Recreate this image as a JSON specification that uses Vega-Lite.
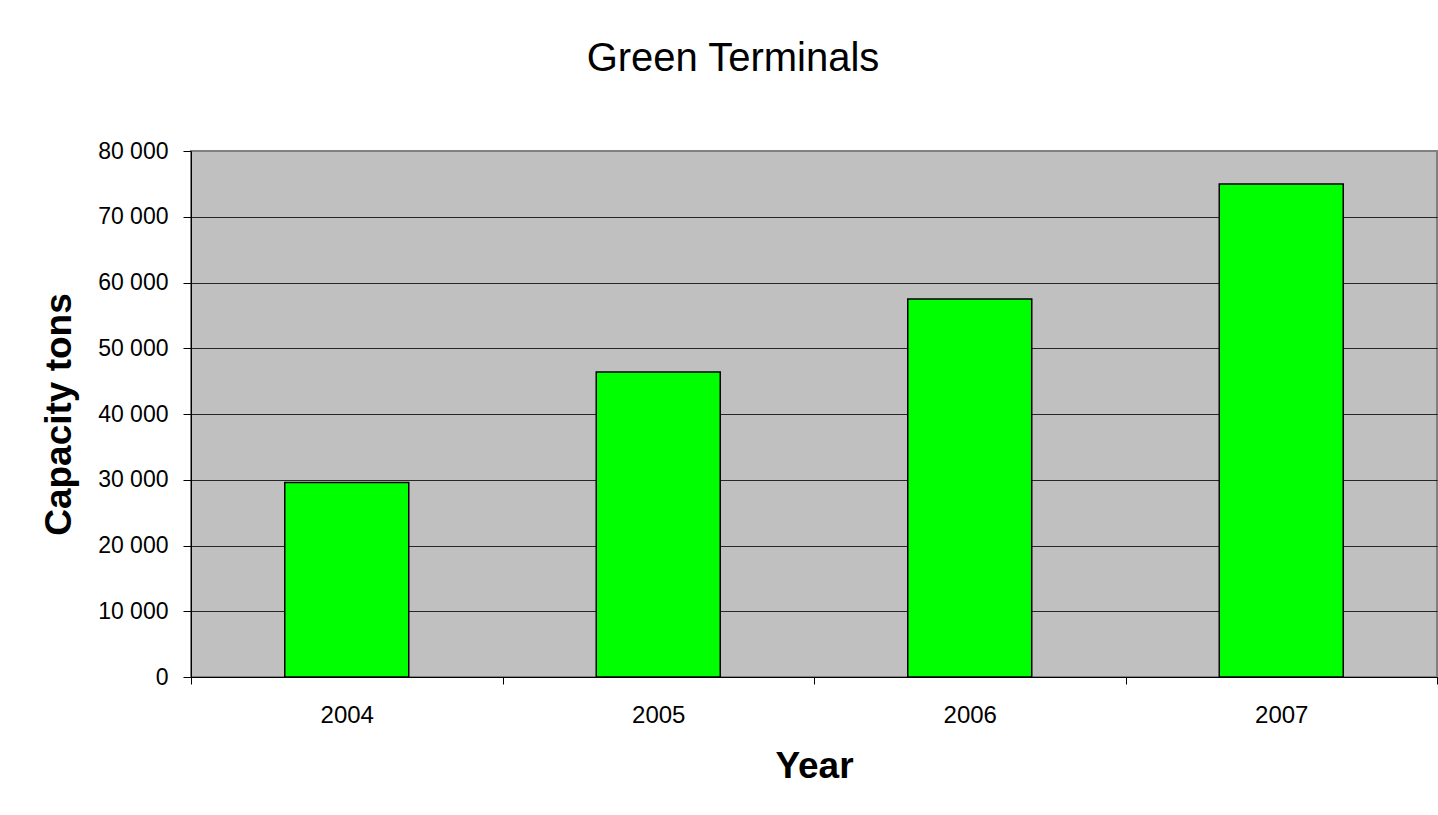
{
  "$schema": "https://vega.github.io/schema/vega-lite/v6.json",
  "width": 1246,
  "height": 526,
  "autosize": {"type": "none"},
  "padding": {"left": 191, "top": 151, "right": 1, "bottom": 138},
  "background": "white",
  "title": {
    "text": "Green Terminals",
    "font": "Liberation Sans",
    "fontSize": 40,
    "fontWeight": "normal",
    "color": "#000000",
    "anchor": "middle",
    "dx": -81,
    "offset": 29,
    "baseline": "alphabetic"
  },
  "data": {
    "values": [
      {"year": 2004, "capacity": 29600},
      {"year": 2005, "capacity": 46400},
      {"year": 2006, "capacity": 57500},
      {"year": 2007, "capacity": 75000}
    ]
  },
  "mark": {
    "type": "bar",
    "orient": "vertical",
    "color": "#00FF00",
    "stroke": "#000000",
    "strokeWidth": 1.5,
    "width": 124
  },
  "encoding": {
    "x": {
      "field": "year",
      "type": "quantitative",
      "scale": {"domain": [2003.5, 2007.5], "nice": false, "zero": false, "padding": 0},
      "axis": {
        "values": [2003.5, 2004, 2004.5, 2005, 2005.5, 2006, 2006.5, 2007, 2007.5],
        "labelExpr": "datum.value % 1 == 0 ? format(datum.value, 'd') : ''",
        "tickOpacity": {"condition": {"test": "datum.value % 1 != 0", "value": 1}, "value": 0},
        "grid": false,
        "tickSize": 7,
        "tickColor": "#000000",
        "domainColor": "#000000",
        "domainWidth": 1,
        "labelPadding": 19,
        "labelFont": "Liberation Sans",
        "labelFontSize": 24,
        "labelColor": "#000000",
        "labelFlush": false,
        "labelOverlap": false,
        "labelBound": false,
        "title": "Year",
        "titleFont": "Liberation Sans",
        "titleFontSize": 37,
        "titleFontWeight": "bold",
        "titleColor": "#000000",
        "titleBaseline": "alphabetic",
        "titleAlign": "center",
        "titleX": 623,
        "titleY": 100
      }
    },
    "y": {
      "field": "capacity",
      "type": "quantitative",
      "scale": {"domain": [0, 80000], "nice": false},
      "axis": {
        "values": [0, 10000, 20000, 30000, 40000, 50000, 60000, 70000, 80000],
        "labelExpr": "replace(format(datum.value, ','), ',', ' ')",
        "grid": true,
        "gridColor": "#000000",
        "gridWidth": 1,
        "gridOpacity": {"condition": {"test": "datum.value >= 80000", "value": 0}, "value": 0.8},
        "tickSize": 8,
        "tickColor": "#000000",
        "domainColor": "#000000",
        "domainWidth": 1,
        "labelPadding": 15,
        "labelFont": "Liberation Sans",
        "labelFontSize": 23,
        "labelColor": "#000000",
        "labelOverlap": false,
        "labelBound": false,
        "title": "Capacity tons",
        "titleFont": "Liberation Sans",
        "titleFontSize": 37,
        "titleFontWeight": "bold",
        "titleColor": "#000000",
        "titleAngle": -90,
        "titleBaseline": "alphabetic",
        "titleAlign": "center",
        "titleX": -121,
        "titleY": 263
      }
    }
  },
  "config": {
    "view": {"fill": "#C0C0C0", "stroke": "#808080", "strokeWidth": 2}
  }
}
